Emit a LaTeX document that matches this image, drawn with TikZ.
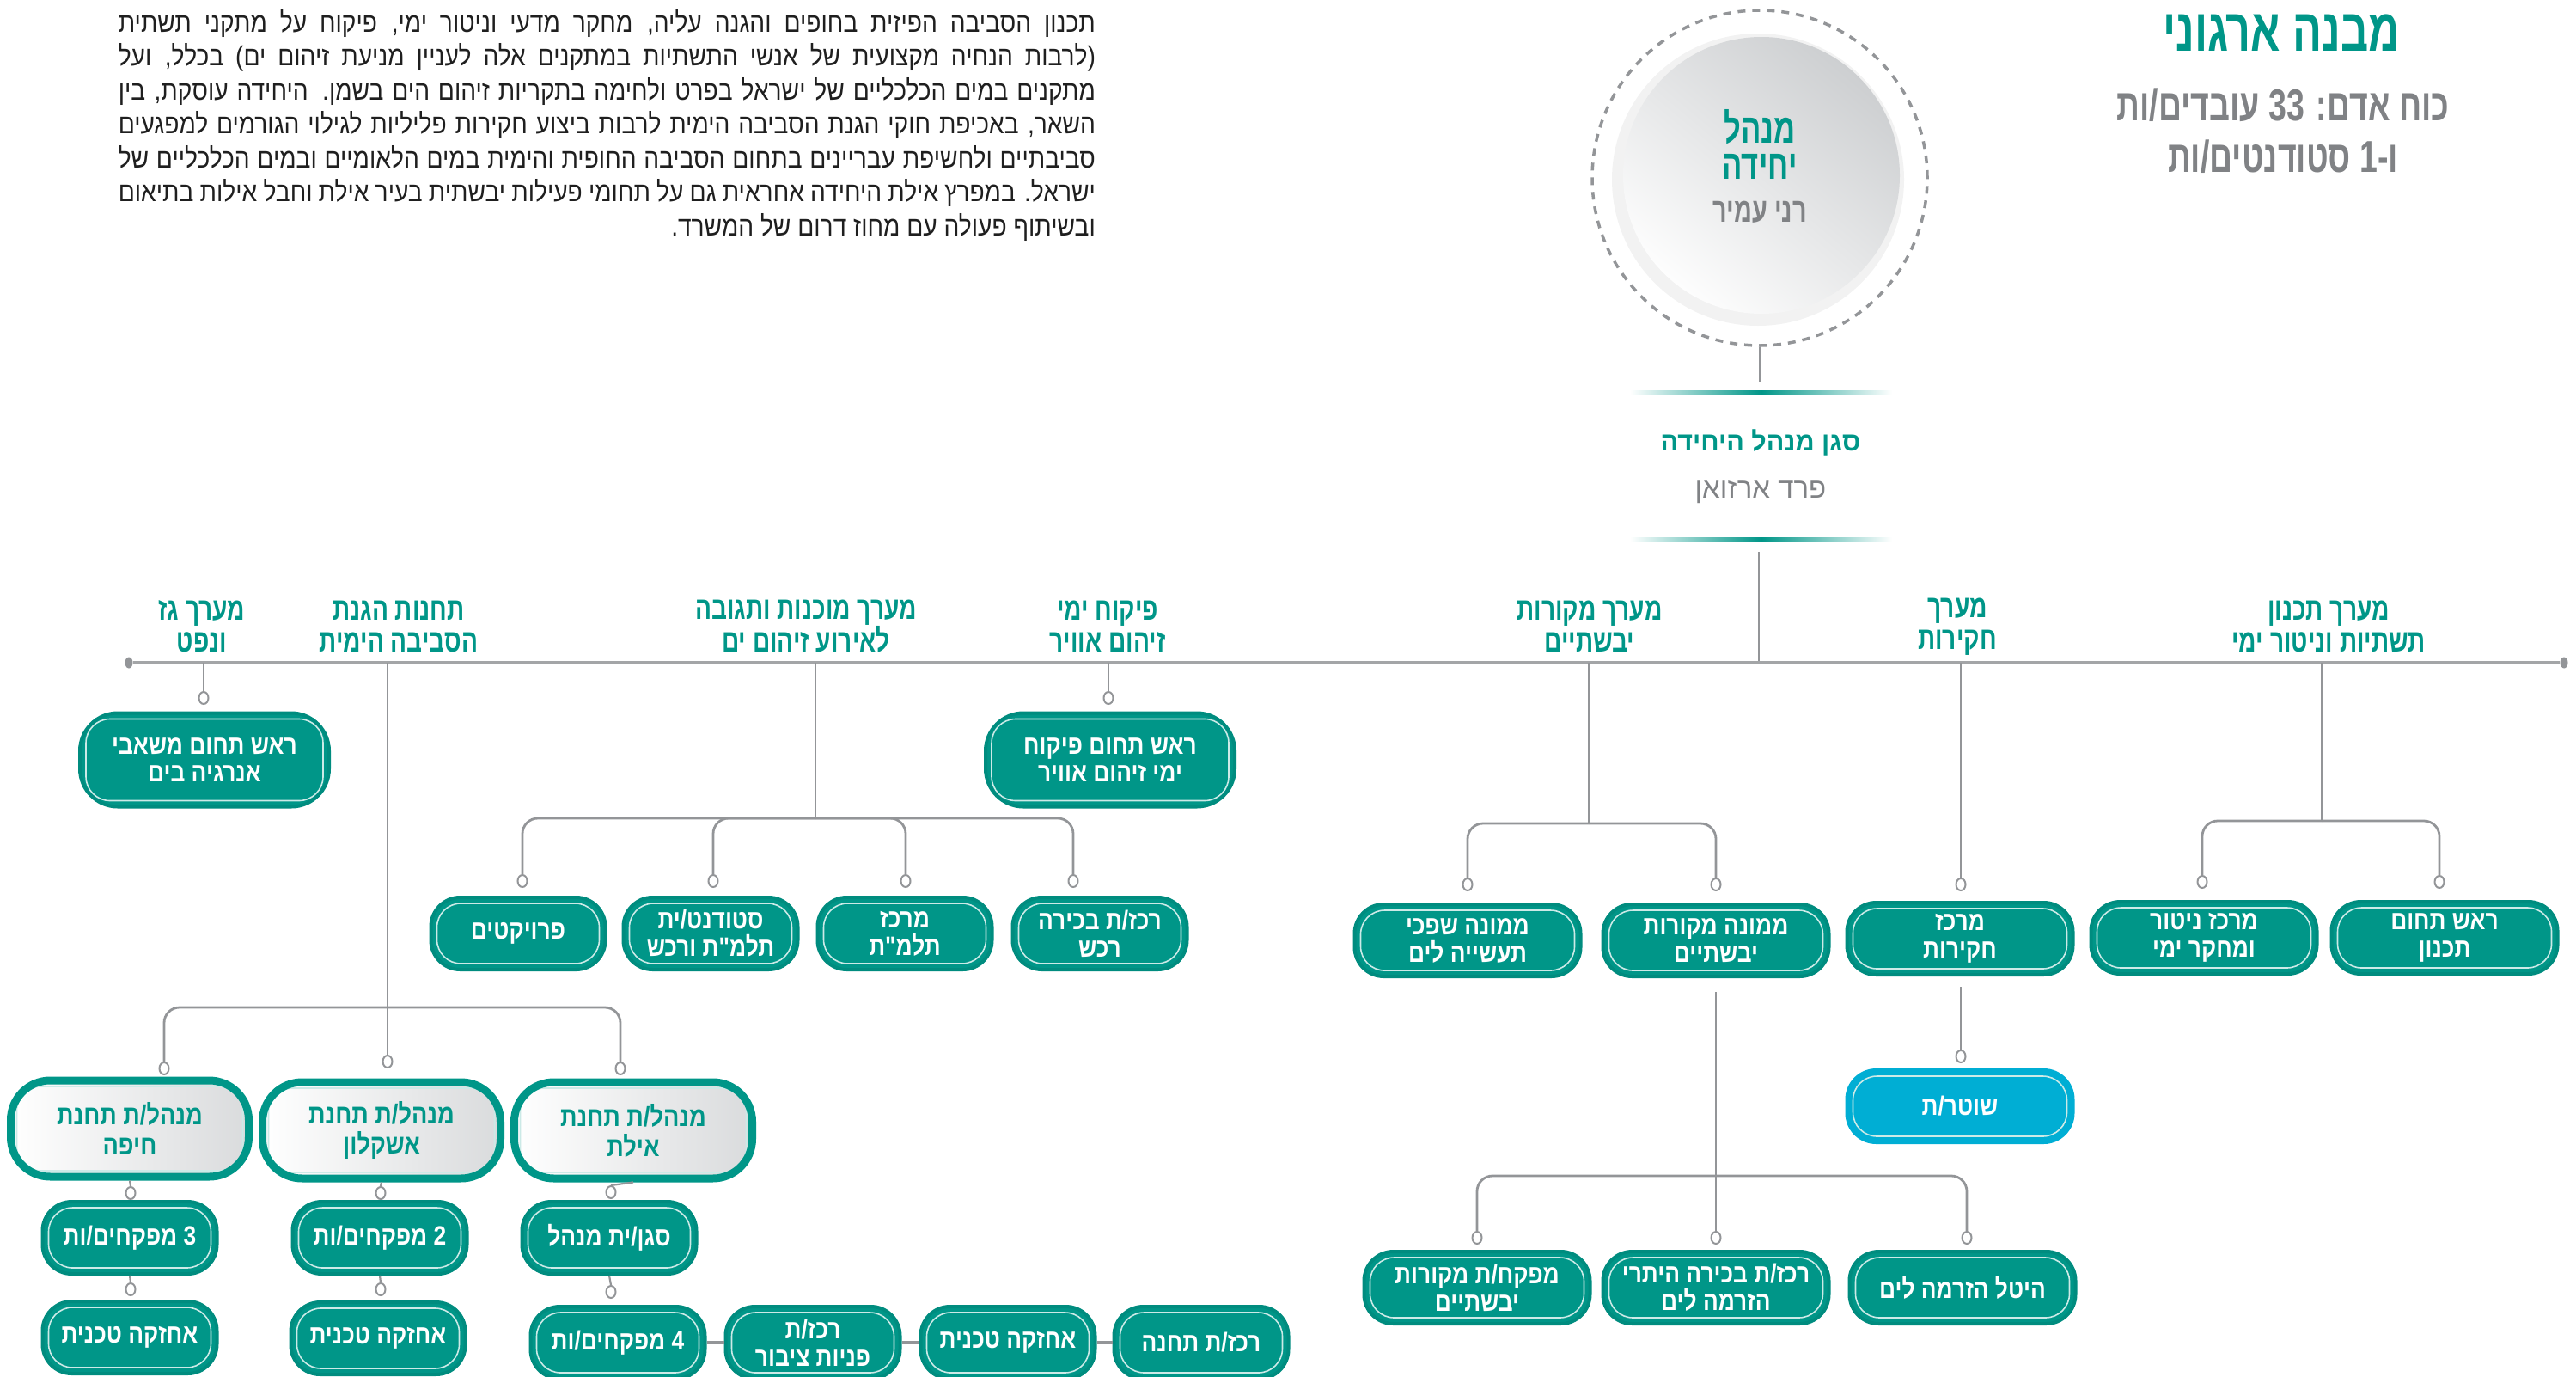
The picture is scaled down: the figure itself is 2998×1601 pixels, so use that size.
\documentclass[tikz,border=0pt]{standalone}
\usepackage{fontspec}
\usetikzlibrary{shapes.geometric}
\TeXXeTstate=1
\newfontfamily\hebr[Script=Hebrew]{Liberation Sans}
\newfontfamily\hebc[Script=Hebrew,FakeStretch=0.72]{Liberation Sans}
\newfontfamily\hebl[Script=Hebrew,FakeStretch=0.76]{Liberation Sans}
\newfontfamily\hebn[Script=Hebrew,FakeStretch=0.85]{Liberation Sans}
\newfontfamily\hebp[Script=Hebrew,FakeStretch=0.88]{Liberation Sans}
\newcommand\hb[1]{\beginR#1\endR}
\definecolor{tealA}{RGB}{0,150,136}
\definecolor{tealB}{RGB}{0,140,127}
\definecolor{grayT}{RGB}{128,130,133}
\definecolor{lineC}{RGB}{147,149,152}
\definecolor{cyanA}{RGB}{0,174,212}
\definecolor{discG}{RGB}{205,207,209}
\tikzset{
  inset/.style={path picture={\draw[white!80!tealA, line width=1.6pt, rounded corners=28pt]
     ([xshift=7pt,yshift=-7pt]path picture bounding box.north west) rectangle
     ([xshift=-7pt,yshift=7pt]path picture bounding box.south east);}},
  pill/.style={rounded corners=34pt, fill=tealA, draw=tealB, line width=4pt,
     minimum width=263pt, minimum height=84pt, inner sep=0pt, text=white, align=center,
     font=\hebn\bfseries\fontsize{31}{32}\selectfont, inset},
  pillL/.style={pill, minimum width=290pt, minimum height=109pt, rounded corners=44pt},
  pillS/.style={pill, minimum width=203pt},
  station/.style={pill, minimum width=277pt, minimum height=112pt, rounded corners=46pt,
     draw=tealA, line width=9pt, left color=white, right color=discG!75, text=tealA,
     font=\hebn\bfseries\fontsize{32}{35}\selectfont},
  cop/.style={pill, fill=cyanA, draw=cyanA},
  lbl/.style={text=tealA, align=center, inner sep=0pt,
     font=\hebl\bfseries\fontsize{37}{37}\selectfont},
  ring/.style={ellipse, draw=lineC, line width=2pt, fill=white, minimum width=11pt,
     minimum height=14pt, inner sep=0pt},
  dot/.style={ellipse, fill=lineC, minimum width=9pt, minimum height=13pt, inner sep=0pt},
  wire/.style={draw=lineC, line width=2.2pt},
  bar/.style={draw=lineC, line width=2.8pt, rounded corners=18pt},
  busline/.style={draw=lineC!85, line width=4pt},
  chainl/.style={draw=lineC, line width=4pt}
}
\begin{document}
\begin{tikzpicture}[x=1pt,y=-1pt]
\useasboundingbox (0,0) rectangle (2998,1601);
% paragraph
\node[anchor=base east, inner sep=0pt, text=black!88, font=\hebp\fontsize{32}{39.5}\selectfont] (para) at (1275,274)
{\vbox{\hsize=1137pt \baselineskip=39.5pt \lineskiplimit=-60pt
\hbox to\hsize{\hb{תכנון הסביבה הפיזית בחופים והגנה עליה, מחקר מדעי וניטור ימי, פיקוח על מתקני תשתית}}
\hbox to\hsize{\hb{(לרבות הנחיה מקצועית של אנשי התשתיות במתקנים אלה לעניין מניעת זיהום ים) בכלל, ועל}}
\hbox to\hsize{\hb{מתקנים במים הכלכליים של ישראל בפרט ולחימה בתקריות זיהום הים בשמן. היחידה עוסקת, בין}}
\hbox to\hsize{\hb{השאר, באכיפת חוקי הגנת הסביבה הימית לרבות ביצוע חקירות פליליות לגילוי הגורמים למפגעים}}
\hbox to\hsize{\hb{סביבתיים ולחשיפת עבריינים בתחום הסביבה החופית והימית במים הלאומיים ובמים הכלכליים של}}
\hbox to\hsize{\hb{ישראל. במפרץ אילת היחידה אחראית גם על תחומי פעילות יבשתית בעיר אילת וחבל אילות בתיאום}}
\hbox to\hsize{\hfill\hb{ובשיתוף פעולה עם מחוז דרום של המשרד.}}}};
% title
\node[text=tealA, font=\hebc\bfseries\fontsize{70}{70}\selectfont] (title) at (2655,38) {\hb{מבנה ארגוני}};
\node[text=grayT, font=\hebc\bfseries\fontsize{52}{52}\selectfont] (sub1) at (2657,122) {\hb{כוח אדם: 33 עובדים/ות}};
\node[text=grayT, font=\hebc\bfseries\fontsize{52}{52}\selectfont] (sub2) at (2657,182) {\hb{ו-1 סטודנטים/ות}};
% manager circle
\node[circle, draw=lineC, line width=3.5pt, dash pattern=on 9pt off 8pt, minimum size=390pt] (mgr) at (2048,207) {};
\node[circle, fill=black!5, minimum size=340pt, inner sep=0pt] (halo) at (2046,209) {};
\node[circle, top color=discG, bottom color=white!96!discG, shading angle=-40, minimum size=322pt, inner sep=0pt] (disc) at (2050,204) {};
\node[text=tealA, align=center, font=\hebc\bfseries\fontsize{48}{42}\selectfont] (mgrT) at (2048,168) {\hb{מנהל}\\\hb{יחידה}};
\node[text=grayT, font=\hebc\bfseries\fontsize{40}{40}\selectfont] (mgrN) at (2048,247) {\hb{רני עמיר}};
% deputy
\coordinate (d0) at (2048,444);
\draw[wire] (mgr.south) -- (d0);
\shade[left color=white, right color=white, middle color=tealA] (1897,454) rectangle (2202,458);
\node[text=tealA, font=\hebr\bfseries\fontsize{30.5}{32}\selectfont] (dep) at (2049,515) {\hb{סגן מנהל היחידה}};
\node[text=grayT, font=\hebr\fontsize{33}{34}\selectfont] (depN) at (2049,573) {\hb{פרד ארזואן}};
\shade[left color=white, right color=white, middle color=tealA] (1897,625) rectangle (2202,629);
\coordinate (d1) at (2047,642);
\coordinate (bD) at (2047,771);
\draw[wire] (d1) -- (bD);
% bus
\node[dot] (busL) at (150,771) {};
\node[dot] (busR) at (2984,771) {};
\draw[busline] (busL) -- (busR);
% level-1 labels
\node[lbl] (L1) at (235,729) {\hb{מערך גז}\\\hb{ונפט}};
\node[lbl] (L2) at (464,729) {\hb{תחנות הגנת}\\\hb{הסביבה הימית}};
\node[lbl] (L3) at (938,729) {\hb{מערך מוכנות ותגובה}\\\hb{לאירוע זיהום ים}};
\node[lbl] (L4) at (1289,729) {\hb{פיקוח ימי}\\\hb{זיהום אוויר}};
\node[lbl] (L5) at (1850,729) {\hb{מערך מקורות}\\\hb{יבשתיים}};
\node[lbl] (L6) at (2278,729) {\hb{מערך}\\\hb{חקירות}};
\node[lbl] (L7) at (2710,729) {\hb{מערך תכנון}\\\hb{תשתיות וניטור ימי}};
% branch A: gas and oil
\coordinate (bA) at (237,771);
\node[ring] (rA) at (237,812) {};
\draw[wire] (bA) -- (rA.north);
\node[pillL] (nA) at (238,884) {\hb{ראש תחום משאבי}\\\hb{אנרגיה בים}};
% branch B: air pollution
\coordinate (bB) at (1290,771);
\node[ring] (rB) at (1290,812) {};
\draw[wire] (bB) -- (rB.north);
\node[pillL] (nB) at (1292,884) {\hb{ראש תחום פיקוח}\\\hb{ימי זיהום אוויר}};
% branch C: preparedness
\coordinate (bC) at (949,771);
\coordinate (jC) at (949,952);
\draw[wire] (bC) -- (jC);
\node[ring] (rC1) at (608,1025) {};
\node[ring] (rC2) at (830,1025) {};
\node[ring] (rC3) at (1054,1025) {};
\node[ring] (rC4) at (1249,1025) {};
\draw[bar] (jC) -| (rC1.north);
\draw[bar] (jC) -| (rC2.north);
\draw[bar] (jC) -| (rC3.north);
\draw[bar] (jC) -| (rC4.north);
\node[pillS] (nC1) at (603,1086) {\hb{פרויקטים}};
\node[pillS] (nC2) at (827,1086) {\hb{סטודנט/ית}\\\hb{תלמ"ת ורכש}};
\node[pillS] (nC3) at (1053,1086) {\hb{מרכז}\\\hb{תלמ"ת}};
\node[pillS] (nC4) at (1280,1086) {\hb{רכז/ת בכירה}\\\hb{רכש}};
% branch D: stations
\coordinate (bDs) at (451,771);
\coordinate (jD) at (451,1172);
\node[ring] (rD1) at (191,1243) {};
\node[ring] (rD2) at (451,1235) {};
\node[ring] (rD3) at (722,1243) {};
\draw[wire] (bDs) -- (rD2.north);
\draw[bar] (jD) -| (rD1.north);
\draw[bar] (jD) -| (rD3.north);
\node[station] (nD1) at (151,1313) {\hb{מנהל/ת תחנת}\\\hb{חיפה}};
\node[station] (nD2) at (444,1315) {\hb{מנהל/ת תחנת}\\\hb{אשקלון}};
\node[station] (nD3) at (737,1315) {\hb{מנהל/ת תחנת}\\\hb{אילת}};
% Haifa
\node[ring] (rH1) at (152,1388) {};
\draw[wire] (nD1.south) -- (rH1.north);
\node[pillS] (nH1) at (151,1440) {\hb{3 מפקחים/ות}};
\node[ring] (rH2) at (152,1500) {};
\draw[wire] (nH1.south) -- (rH2.north);
\node[pillS] (nH2) at (151,1556) {\hb{אחזקה טכנית}};
% Ashkelon
\node[ring] (rK1) at (443,1388) {};
\draw[wire] (nD2.south) -- (rK1.north);
\node[pillS] (nK1) at (442,1440) {\hb{2 מפקחים/ות}};
\node[ring] (rK2) at (443,1500) {};
\draw[wire] (nK1.south) -- (rK2.north);
\node[pillS] (nK2) at (440,1557) {\hb{אחזקה טכנית}};
% Eilat
\node[ring] (rE1) at (711,1387) {};
\draw[wire] (nD3.south) -- (rE1.north);
\node[pillS] (nE1) at (709,1440) {\hb{סגן/ית מנהל}};
\node[ring] (rE2) at (711,1503) {};
\draw[wire] (nE1.south) -- (rE2.north);
\node[pillS] (nE2) at (719,1562) {\hb{4 מפקחים/ות}};
\node[pillS] (nE3) at (946,1562) {\hb{רכז/ת}\\\hb{פניות ציבור}};
\node[pillS] (nE4) at (1173,1562) {\hb{אחזקה טכנית}};
\node[pillS] (nE5) at (1398,1562) {\hb{רכז/ת תחנה}};
\draw[chainl] (nE2.east) -- (nE3.west);
\draw[chainl] (nE3.east) -- (nE4.west);
\draw[chainl] (nE4.east) -- (nE5.west);
% branch E: land sources
\coordinate (bE) at (1849,771);
\coordinate (jE) at (1849,958);
\draw[wire] (bE) -- (jE);
\node[ring] (rM1) at (1708,1029) {};
\node[ring] (rM2) at (1997,1029) {};
\draw[bar] (jE) -| (rM1.north);
\draw[bar] (jE) -| (rM2.north);
\node[pill] (nM1) at (1708,1094) {\hb{ממונה שפכי}\\\hb{תעשייה לים}};
\node[pill] (nM2) at (1997,1094) {\hb{ממונה מקורות}\\\hb{יבשתיים}};
\coordinate (m0) at (1997,1154);
\coordinate (jM) at (1997,1368);
\node[ring] (rM3) at (1719,1440) {};
\node[ring] (rM4) at (1997,1440) {};
\node[ring] (rM5) at (2289,1440) {};
\draw[wire] (m0) -- (rM4.north);
\draw[bar] (jM) -| (rM3.north);
\draw[bar] (jM) -| (rM5.north);
\node[pill] (nM3) at (1719,1498) {\hb{מפקח/ת מקורות}\\\hb{יבשתיים}};
\node[pill] (nM4) at (1997,1498) {\hb{רכז/ת בכירה היתרי}\\\hb{הזרמה לים}};
\node[pill] (nM5) at (2284,1498) {\hb{היטל הזרמה לים}};
% branch F: investigations
\coordinate (bF) at (2282,771);
\node[ring] (rF1) at (2282,1029) {};
\draw[wire] (bF) -- (rF1.north);
\node[pill] (nF1) at (2281,1092) {\hb{מרכז}\\\hb{חקירות}};
\coordinate (f0) at (2282,1148);
\node[ring] (rF2) at (2282,1229) {};
\draw[wire] (f0) -- (rF2.north);
\node[cop] (nF2) at (2281,1287) {\hb{שוטר/ת}};
% branch G: planning
\coordinate (bG) at (2702,771);
\coordinate (jG) at (2702,955);
\draw[wire] (bG) -- (jG);
\node[ring] (rG1) at (2563,1026) {};
\node[ring] (rG2) at (2839,1026) {};
\draw[bar] (jG) -| (rG1.north);
\draw[bar] (jG) -| (rG2.north);
\node[pill] (nG1) at (2565,1091) {\hb{מרכז ניטור}\\\hb{ומחקר ימי}};
\node[pill] (nG2) at (2845,1091) {\hb{ראש תחום}\\\hb{תכנון}};
\end{tikzpicture}
\end{document}
